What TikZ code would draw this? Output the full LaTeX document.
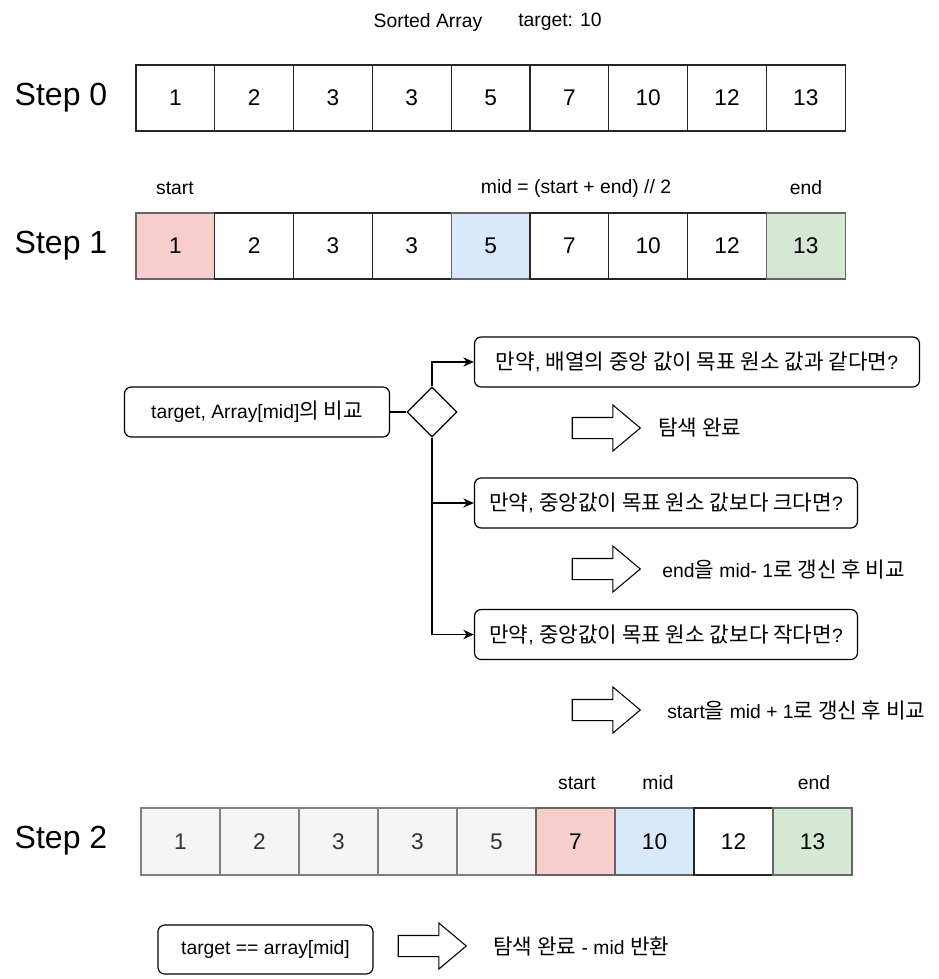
\documentclass[tikz,border=0pt]{standalone}
\usepackage{fontspec}
\setmainfont{Liberation Sans}
\newfontfamily\krfont[Scale=1.1]{Noto Sans CJK KR}
\newcommand{\kor}[1]{{\krfont #1}}
\usetikzlibrary{shapes.geometric,shapes.arrows,arrows.meta}
\definecolor{startred}{HTML}{F8CECC}
\definecolor{midblue}{HTML}{DAE8FC}
\definecolor{endgreen}{HTML}{D5E8D4}
\definecolor{donegray}{HTML}{F5F5F5}
\newcommand{\txt}{\fontsize{14.5}{17}\selectfont}

\tikzset{
  cell/.style={draw=black!85, line width=0.8pt, minimum width=59.1pt, minimum height=49.5pt,
    inner sep=0pt, outer sep=0pt, font=\fontsize{17}{20}\selectfont},
  startcell/.style={cell, fill=startred, draw=black!60},
  midcell/.style={cell, fill=midblue, draw=black!60},
  endcell/.style={cell, fill=endgreen, draw=black!60},
  donecell/.style={cell, fill=donegray, draw=black!50, text=black!80},
  steplbl/.style={font=\fontsize{24}{28}\selectfont},
  lbl/.style={font=\txt},
  qbox/.style={draw, rounded corners=5pt, line width=0.9pt, minimum height=37.5pt, font=\txt},
  bigarrow/.style={single arrow, draw, line width=0.8pt, inner xsep=0pt, inner ysep=7.5pt,
    minimum height=51pt, single arrow head extend=9.4pt, single arrow tip angle=80},
  note/.style={anchor=west, inner sep=0pt, font=\txt}
}

\begin{document}
\begin{tikzpicture}[x=0.75pt,y=-0.75pt,>={Stealth[length=8pt,width=7pt]}]
\useasboundingbox (0,0) rectangle (939,979);

% title
\node[lbl] (title) at (428,22) {Sorted Array};
\node[lbl] (target) at (560,22) {target: 10};

% step 0
\node[steplbl] (st0) at (61,98) {Step 0};
\foreach \v [count=\i] in {1,2,3,3,5,7,10,12,13}
  \node[cell] (s0c\i) at ({136+78.8*(\i-0.5)},98) {\v};

% step 1
\node[steplbl] (st1) at (61,246) {Step 1};
\node[lbl] (s1start) at (175,188) {start};
\node[lbl] (s1mid) at (576,188) {mid = (start + end) // 2};
\node[lbl] (s1end) at (806,188) {end};
\foreach \v/\s [count=\i] in {1/startcell,2/cell,3/cell,3/cell,5/midcell,7/cell,10/cell,12/cell,13/endcell}
  \node[\s] (s1c\i) at ({136+78.8*(\i-0.5)},246) {\v};

% comparison
\node[qbox, minimum width=198.75pt] (cmp) at (257,412) {target, Array[mid]\kor{의 비교}};
\node[diamond, draw, line width=0.9pt, minimum width=37.5pt, minimum height=37.5pt, inner sep=0pt] (dia) at (432,412) {};
\node[qbox, minimum width=333.75pt] (q1) at (697,362) {\kor{만약}, \kor{배열의 중앙 값이 목표 원소 값과 같다면}?};
\node[qbox, minimum width=287.25pt] (q2) at (666,503) {\kor{만약}, \kor{중앙값이 목표 원소 값보다 크다면}?};
\node[qbox, minimum width=287.25pt] (q3) at (666,634.5) {\kor{만약}, \kor{중앙값이 목표 원소 값보다 작다면}?};

\draw[line width=0.9pt] (cmp) -- (dia);
\draw[->, line width=0.9pt] (dia.north) |- (q1.west);
\draw[->, line width=0.9pt] (dia.south) |- (q2.west);
\draw[->, line width=0.9pt] (dia.south) |- (q3.west);

\node[bigarrow] (r1) at (600,428) {};
\node[note] (n1) at (658,428) {\kor{탐색 완료}};
\node[bigarrow] (r2) at (600,569) {};
\node[note] (n2) at (662,569) {end\kor{을} mid- 1\kor{로 갱신 후 비교}};
\node[bigarrow] (r3) at (600,710) {};
\node[note] (n3) at (667,710) {start\kor{을} mid + 1\kor{로 갱신 후 비교}};

% step 2
\node[steplbl] (st2) at (61,841) {Step 2};
\node[lbl] (s2start) at (577,783) {start};
\node[lbl] (s2mid) at (658,783) {mid};
\node[lbl] (s2end) at (814,783) {end};
\foreach \v/\s [count=\i] in {1/donecell,2/donecell,3/donecell,3/donecell,5/donecell,7/startcell,10/midcell,12/cell,13/endcell}
  \node[\s, minimum width=59.25pt, minimum height=50.25pt] (s2c\i) at ({141+79*(\i-0.5)},841.5) {\v};

% result
\node[qbox, minimum width=161.25pt, minimum height=36.75pt] (fin) at (265.5,949.5) {target == array[mid]};
\node[bigarrow] (r4) at (426,946) {};
\node[note] (n4) at (493,946) {\kor{탐색 완료} - mid \kor{반환}};
\end{tikzpicture}
\end{document}
